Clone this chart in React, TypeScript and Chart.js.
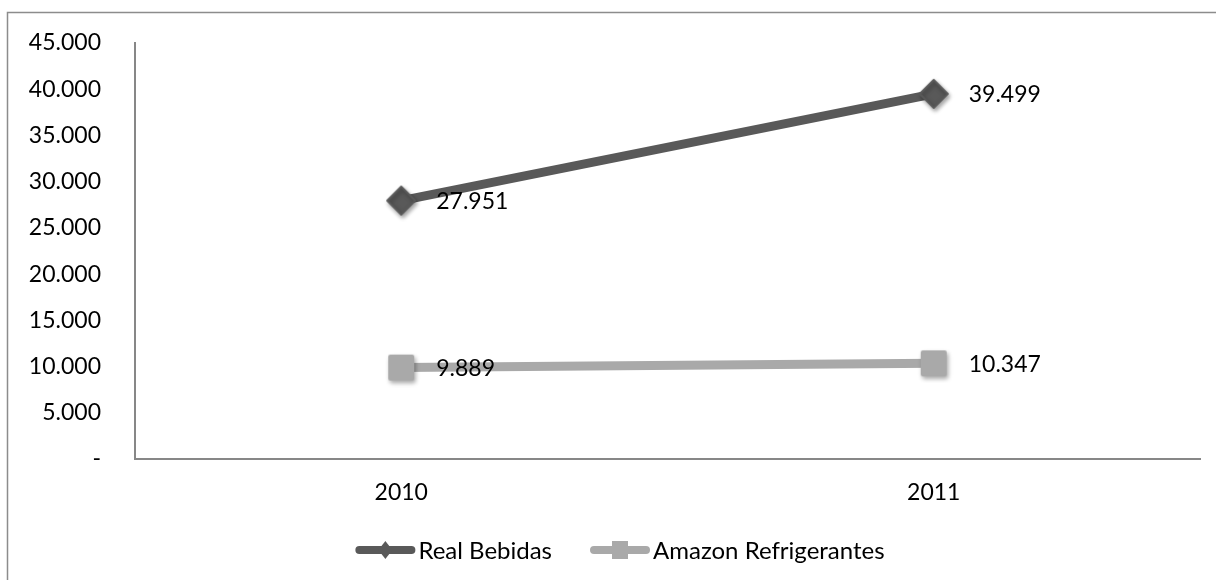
import React, { useEffect, useRef } from "react";
import { Chart, registerables } from "chart.js";

Chart.register(...registerables);

// ---- data ----
const categories = ["2010", "2011"];
const seriesNames = ["Real Bebidas", "Amazon Refrigerantes"];
const realBebidas = [27951, 39499];
const amazonRefrigerantes = [9889, 10347];
const yMin = 0;
const yMax = 45000;
const yStep = 5000;

// ---- style ----
const DARK = "#595959";
const LIGHT = "#a9a9a9";
const AXIS = "#878787";
const FONT = "Lato, 'Open Sans', sans-serif";
const FONT_SIZE = 23;
const LEGEND_FONT_SIZE = 24;
const LEGEND_CENTER_X = 620;
const LEGEND_Y = 550;

const fmt = (v: number) =>
  v === 0 ? "-" : String(Math.round(v)).replace(/\B(?=(\d{3})+(?!\d))/g, ".");

function makeMarker(kind: "diamond" | "square", color: string, r: number, shadow: boolean) {
  const size = Math.ceil(r * 2 + 14);
  const c = document.createElement("canvas");
  c.width = size;
  c.height = size;
  const ctx = c.getContext("2d")!;
  const cx = size / 2;
  const cy = size / 2;
  if (shadow) {
    ctx.shadowColor = "rgba(0,0,0,0.35)";
    ctx.shadowBlur = 4;
    ctx.shadowOffsetX = 1.5;
    ctx.shadowOffsetY = 2.5;
  }
  ctx.fillStyle = color;
  ctx.beginPath();
  if (kind === "diamond") {
    ctx.moveTo(cx, cy - r);
    ctx.lineTo(cx + r, cy);
    ctx.lineTo(cx, cy + r);
    ctx.lineTo(cx - r, cy);
    ctx.closePath();
    ctx.lineJoin = "round";
    ctx.strokeStyle = color;
    ctx.lineWidth = 2;
    ctx.fill();
    ctx.stroke();
  } else {
    const h = r;
    const rr = 2;
    const x0 = cx - h, y0 = cy - h, w = 2 * h;
    ctx.moveTo(x0 + rr, y0);
    ctx.lineTo(x0 + w - rr, y0);
    ctx.quadraticCurveTo(x0 + w, y0, x0 + w, y0 + rr);
    ctx.lineTo(x0 + w, y0 + w - rr);
    ctx.quadraticCurveTo(x0 + w, y0 + w, x0 + w - rr, y0 + w);
    ctx.lineTo(x0 + rr, y0 + w);
    ctx.quadraticCurveTo(x0, y0 + w, x0, y0 + w - rr);
    ctx.lineTo(x0, y0 + rr);
    ctx.quadraticCurveTo(x0, y0, x0 + rr, y0);
    ctx.closePath();
    ctx.fill();
  }
  return c;
}

const framePlugin = {
  id: "frame",
  beforeDraw(chart: any) {
    const ctx = chart.ctx;
    ctx.save();
    ctx.fillStyle = "#ffffff";
    ctx.fillRect(0, 0, chart.width, chart.height);
    ctx.strokeStyle = "#8c8c8c";
    ctx.lineWidth = 1.5;
    ctx.strokeRect(7.5, 12.5, chart.width + 50, chart.height + 50);
    ctx.restore();
  },
};

const labelPlugin = {
  id: "valueLabels",
  afterDatasetsDraw(chart: any) {
    const ctx = chart.ctx;
    ctx.save();
    ctx.font = `${FONT_SIZE}px ${FONT}`;
    ctx.fillStyle = "#000000";
    ctx.textAlign = "left";
    ctx.textBaseline = "middle";
    chart.data.datasets.forEach((ds: any, i: number) => {
      const meta = chart.getDatasetMeta(i);
      meta.data.forEach((pt: any, j: number) => {
        ctx.fillText(fmt(ds.data[j]), pt.x + 35, pt.y + 1);
      });
    });
    ctx.restore();
  },
};

const legendPlugin = {
  id: "excelLegend",
  afterDraw(chart: any) {
    const ctx = chart.ctx;
    ctx.save();
    ctx.font = `${LEGEND_FONT_SIZE}px ${FONT}`;
    const symW = 60;
    const textGap = 3;
    const gap = 38;
    const items = chart.data.datasets.map((ds: any) => ({
      text: ds.label,
      color: ds.borderColor,
      kind: ds.markerKind,
      w: ctx.measureText(ds.label).width,
    }));
    const total =
      items.reduce((s: number, it: any) => s + symW + textGap + it.w, 0) + gap * (items.length - 1);
    let x = LEGEND_CENTER_X - total / 2;
    const y = LEGEND_Y;
    items.forEach((it: any) => {
      ctx.strokeStyle = it.color;
      ctx.lineWidth = 8;
      ctx.lineCap = "round";
      ctx.beginPath();
      ctx.moveTo(x + 4, y);
      ctx.lineTo(x + symW - 4, y);
      ctx.stroke();
      ctx.fillStyle = it.color;
      ctx.beginPath();
      const cx = x + symW / 2;
      if (it.kind === "diamond") {
        ctx.moveTo(cx, y - 9);
        ctx.lineTo(cx + 7, y);
        ctx.lineTo(cx, y + 9);
        ctx.lineTo(cx - 7, y);
        ctx.closePath();
      } else {
        ctx.rect(cx - 8, y - 9, 16, 18);
      }
      ctx.fill();
      ctx.fillStyle = "#000000";
      ctx.textAlign = "left";
      ctx.textBaseline = "middle";
      ctx.fillText(it.text, x + symW + textGap, y + 1);
      x += symW + textGap + it.w + gap;
    });
    ctx.restore();
  },
};

function zeroPadding(scale: any) {
  scale.paddingLeft = 0;
  scale.paddingRight = 0;
  scale.paddingTop = 0;
  scale.paddingBottom = 0;
}

export default function App() {
  const ref = useRef<HTMLCanvasElement | null>(null);

  useEffect(() => {
    if (!ref.current) return;
    const diamond = makeMarker("diamond", DARK, 14, true);
    const square = makeMarker("square", LIGHT, 13, true);
    const chart = new Chart(ref.current, {
      type: "line",
      data: {
        labels: categories,
        datasets: [
          {
            label: seriesNames[0],
            data: realBebidas,
            borderColor: DARK,
            backgroundColor: DARK,
            borderWidth: 9,
            pointStyle: diamond as any,
            pointRadius: 14,
            pointHoverRadius: 14,
            tension: 0,
            markerKind: "diamond",
          } as any,
          {
            label: seriesNames[1],
            data: amazonRefrigerantes,
            borderColor: LIGHT,
            backgroundColor: LIGHT,
            borderWidth: 9,
            pointStyle: square as any,
            pointRadius: 14,
            pointHoverRadius: 14,
            tension: 0,
            markerKind: "square",
          } as any,
        ],
      },
      options: {
        responsive: false,
        animation: false,
        events: [],
        layout: { autoPadding: false, padding: { left: 0, right: 16, top: 43, bottom: 61 } },
        plugins: {
          legend: { display: false },
          tooltip: { enabled: false },
        },
        scales: {
          x: {
            type: "category",
            offset: true,
            grid: { display: false, drawTicks: false },
            border: { display: true, color: AXIS, width: 2 },
            ticks: {
              padding: 20,
              color: "#000000",
              font: { family: FONT, size: FONT_SIZE },
            },
            afterFit(scale: any) {
              scale.height = 60;
              zeroPadding(scale);
            },
          },
          y: {
            min: yMin,
            max: yMax,
            grid: { display: false, drawTicks: false },
            border: { display: true, color: AXIS, width: 2 },
            ticks: {
              stepSize: yStep,
              padding: 34,
              color: "#000000",
              font: { family: FONT, size: FONT_SIZE },
              callback: (v: any) => fmt(Number(v)),
            },
            afterFit(scale: any) {
              scale.width = 135;
              zeroPadding(scale);
            },
          },
        },
      },
      plugins: [framePlugin, labelPlugin, legendPlugin],
    });
    return () => chart.destroy();
  }, []);

  return (
    <div style={{ position: "absolute", left: 0, top: 0, width: 1216, height: 580 }}>
      <canvas ref={ref} width={1216} height={580} style={{ width: 1216, height: 580, display: "block" }} />
    </div>
  );
}
